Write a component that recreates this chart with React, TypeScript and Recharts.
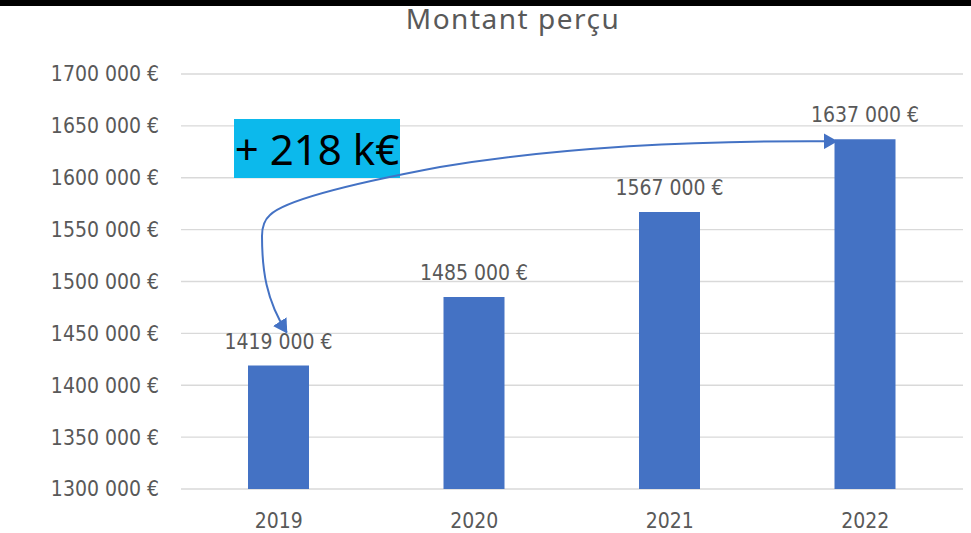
import React from 'react';
import { BarChart, Bar, XAxis, YAxis, CartesianGrid, LabelList } from 'recharts';

const title = 'Montant perçu';
const years = ['2019', '2020', '2021', '2022'];
const amounts = [1419000, 1485000, 1567000, 1637000];
const yTicks = [1300000, 1350000, 1400000, 1450000, 1500000, 1550000, 1600000, 1650000, 1700000];
const yDomain: [number, number] = [1300000, 1700000];

const fmt = (v: number) => `${Math.floor(v / 1000)} ${String(v % 1000).padStart(3, '0')} €`;
const growthLabel = `+ ${(amounts[amounts.length - 1] - amounts[0]) / 1000} k€`;

const data = years.map((y, i) => ({ year: y, amount: amounts[i] }));

const W = 971;
const H = 533;
const M = { top: 74, right: 8, bottom: 0, left: 0 };
const Y_W = 181;
const X_H = 44;
const BAR = 61;
const plotL = M.left + Y_W;
const plotR = W - M.right;
const plotT = M.top;
const plotB = H - M.bottom - X_H;
const band = (plotR - plotL) / years.length;
const xPx = (i: number) => plotL + band * (i + 0.5);
const yPx = (v: number) => plotB - ((v - yDomain[0]) / (yDomain[1] - yDomain[0])) * (plotB - plotT);

const TXT = '#595959';
const BLUE = '#4472C4';
const FONT = '"DejaVu Sans Condensed", "Liberation Sans Narrow", "Noto Sans", sans-serif';

const ValueLabel = (props: any) => {
  const { x, y, width, value } = props;
  return (
    <text
      x={Number(x) + Number(width) / 2}
      y={Number(y) - 17}
      textAnchor="middle"
      fill={TXT}
      fontSize={21}
      fontFamily={FONT}
    >
      {fmt(Number(value))}
    </text>
  );
};

export default function App() {
  const A = { x: xPx(3) - BAR / 2 + 2, y: yPx(amounts[3]) + 2 };
  const B = { x: xPx(0) + 8, y: yPx(amounts[0]) - 33 };
  const d = `M ${A.x} ${A.y} C ${A.x - 135} ${A.y - 1} 560 147 440 167 C 360 182 285 200 270 215 Q 262 222 262 236 C 262 270 266 300 ${B.x} ${B.y}`;
  return (
    <div style={{ position: 'absolute', left: 0, top: 0, width: W, height: H, background: '#fff' }}>
      <BarChart width={W} height={H} data={data} margin={M}>
        <CartesianGrid vertical={false} stroke="#D9D9D9" strokeWidth={1.3} />
        <XAxis
          dataKey="year"
          axisLine={false}
          tickLine={false}
          tickSize={0}
          tickMargin={24}
          height={X_H}
          tick={{ fill: TXT, fontSize: 21, fontFamily: FONT }}
        />
        <YAxis
          type="number"
          domain={yDomain}
          ticks={yTicks}
          interval={0}
          tickFormatter={fmt}
          axisLine={false}
          tickLine={false}
          tickSize={0}
          tickMargin={22}
          width={Y_W}
          tick={{ fill: TXT, fontSize: 21, fontFamily: FONT }}
        />
        <Bar dataKey="amount" fill={BLUE} barSize={BAR} isAnimationActive={false}>
          <LabelList dataKey="amount" content={ValueLabel} />
        </Bar>
      </BarChart>
      <svg
        width={W}
        height={H}
        style={{ position: 'absolute', left: 0, top: 0, pointerEvents: 'none' }}
      >
        <defs>
          <marker
            id="arrowHead"
            viewBox="0 0 14 16"
            markerWidth={14}
            markerHeight={16}
            markerUnits="userSpaceOnUse"
            refX={13}
            refY={8}
            orient="auto-start-reverse"
          >
            <path d="M0,0 L14,8 L0,16 Z" fill={BLUE} />
          </marker>
        </defs>
        <rect x={0} y={0} width={W} height={6} fill="#000" />
        <text
          x={513}
          y={29}
          textAnchor="middle"
          fill={TXT}
          fontSize={28}
          letterSpacing={1.5}
          fontFamily='"Noto Sans", sans-serif'
        >
          {title}
        </text>
        <rect x={234} y={119} width={166} height={59} fill="#0CB9EC" />
        <text
          x={317}
          y={165}
          textAnchor="middle"
          fill="#000"
          fontSize={42}
          fontFamily='"Noto Sans", sans-serif'
        >
          {growthLabel}
        </text>
        <path
          d={d}
          fill="none"
          stroke={BLUE}
          strokeWidth={2}
          markerStart="url(#arrowHead)"
          markerEnd="url(#arrowHead)"
        />
      </svg>
    </div>
  );
}
